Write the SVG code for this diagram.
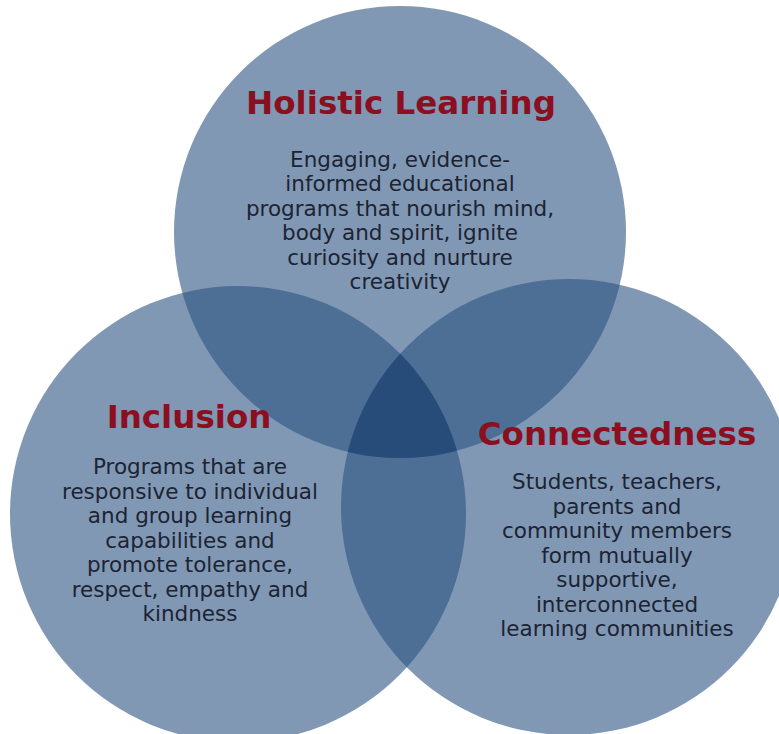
<svg xmlns="http://www.w3.org/2000/svg" width="779" height="734" viewBox="0 0 779 734">
  <style>
    .circle { fill: #2b5382; fill-opacity: 0.6; }
    .title { font-family: "DejaVu Sans", "Liberation Sans", sans-serif; font-weight: bold; font-size: 32.5px; fill: #8b0f1f; text-anchor: middle; }
    .body { font-family: "DejaVu Sans", "Liberation Sans", sans-serif; font-size: 21.5px; fill: #1c2333; text-anchor: middle; }
  </style>
  <defs>
    <clipPath id="clipLeft"><circle cx="238" cy="514" r="228"/></clipPath>
    <clipPath id="clipRight"><circle cx="569" cy="507" r="228"/></clipPath>
  </defs>
  <rect x="0" y="0" width="779" height="734" fill="#ffffff"/>
  <g id="connectors"></g>
  <g id="holistic-learning">
    <circle class="circle" cx="400" cy="232" r="226"/>
  </g>
  <g id="inclusion">
    <circle class="circle" cx="238" cy="514" r="228"/>
  </g>
  <g id="connectedness">
    <circle class="circle" cx="569" cy="507" r="228"/>
  </g>
  <g id="center-overlap" clip-path="url(#clipRight)">
    <g clip-path="url(#clipLeft)">
      <circle cx="400" cy="232" r="226" fill="#143764" fill-opacity="0.45"/>
    </g>
  </g>
  <g id="holistic-learning-text">
    <text class="title" x="401" y="114">Holistic Learning</text>
    <text class="body" x="400" y="167">Engaging, evidence-</text>
    <text class="body" x="400" y="191">informed educational</text>
    <text class="body" x="400" y="215.5">programs that nourish mind,</text>
    <text class="body" x="400" y="240">body and spirit, ignite</text>
    <text class="body" x="400" y="264.5">curiosity and nurture</text>
    <text class="body" x="400" y="289">creativity</text>
  </g>
  <g id="inclusion-text">
    <text class="title" x="189" y="428">Inclusion</text>
    <text class="body" x="190" y="474">Programs that are</text>
    <text class="body" x="190" y="498.5">responsive to individual</text>
    <text class="body" x="190" y="523">and group learning</text>
    <text class="body" x="190" y="547.5">capabilities and</text>
    <text class="body" x="190" y="572">promote tolerance,</text>
    <text class="body" x="190" y="596.5">respect, empathy and</text>
    <text class="body" x="190" y="621">kindness</text>
  </g>
  <g id="connectedness-text">
    <text class="title" x="617" y="445">Connectedness</text>
    <text class="body" x="617" y="489">Students, teachers,</text>
    <text class="body" x="617" y="513.5">parents and</text>
    <text class="body" x="617" y="538">community members</text>
    <text class="body" x="617" y="562.5">form mutually</text>
    <text class="body" x="617" y="587">supportive,</text>
    <text class="body" x="617" y="611.5">interconnected</text>
    <text class="body" x="617" y="636">learning communities</text>
  </g>
</svg>
